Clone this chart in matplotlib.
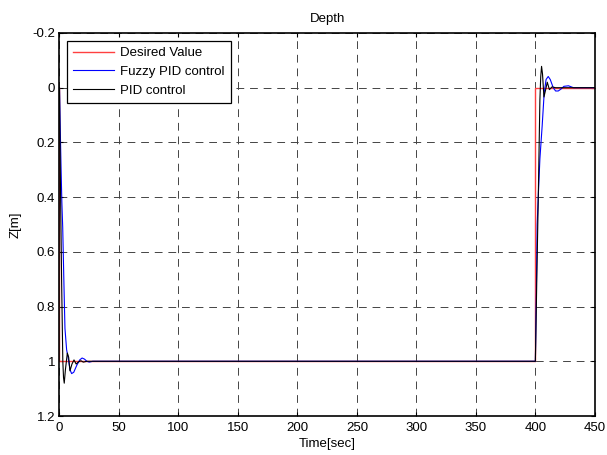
import matplotlib
matplotlib.use("Agg")
import matplotlib.pyplot as plt

# ---- data ----
desired_t = [0, 0, 400, 400, 450]
desired_z = [0, 1, 1, 0, 0]

fuzzy_t = [0, 0.5, 1.3, 2.0, 2.7, 3.8, 4.6, 6.0, 7.4, 8.8, 10.2, 12, 14.5, 17, 19,
           21, 23, 25, 28, 30, 400, 400.8, 401.5, 402.6, 403.8, 405.7, 407.4, 409,
           410.8, 412.5, 415, 417, 419.2, 421.5, 424, 427.8, 432, 450]
fuzzy_z = [0, 0.12, 0.29, 0.42, 0.51, 0.73, 0.88, 0.958, 0.99, 1.03, 1.045, 1.04,
           1.015, 0.995, 0.988, 0.992, 1.0, 1.003, 1.0, 1.0, 1.0, 0.75, 0.5, 0.38,
           0.26, 0.14, 0.02, -0.03, -0.041, -0.03, 0.0, 0.012, 0.012, 0.005, -0.005,
           -0.007, 0, 0]

pid_t = [0, 0.8, 1.8, 2.8, 3.4, 4.0, 5.0, 6.6, 7.7, 8.8, 10.5, 12.2, 14, 16, 18, 20,
         23, 25, 400, 400.6, 401.4, 402.4, 403.2, 403.8, 404.5, 405.2, 406, 407.2,
         408.5, 410, 411.8, 414, 417, 450]
pid_z = [0, 0.35, 0.71, 1.0, 1.06, 1.08, 1.03, 0.97, 0.985, 1.035, 1.01, 0.995, 1.01,
         1.002, 0.998, 1.003, 1.0, 1.0, 1.0, 0.85, 0.65, 0.41, 0.2, 0.044, -0.04,
         -0.078, -0.05, 0.034, 0.01, -0.02, 0.007, -0.003, 0.0, 0.0]

x_ticks = [0, 50, 100, 150, 200, 250, 300, 350, 400, 450]
y_ticks = [-0.2, 0, 0.2, 0.4, 0.6, 0.8, 1, 1.2]
y_tick_labels = ["-0.2", "0", "0.2", "0.4", "0.6", "0.8", "1", "1.2"]
series_labels = ["Desired Value", "Fuzzy PID control", "PID control"]

FS = 9.5
plt.rcParams['font.family'] = ['Liberation Sans', 'DejaVu Sans']
plt.rcParams['font.size'] = FS

fig = plt.figure(figsize=(6.07, 4.55), dpi=100)
ax = fig.add_axes([0.098, 0.0857, 0.882, 0.8418])

ax.plot(desired_t, desired_z, color='#ff4040', lw=1.0, label=series_labels[0])
ax.plot(fuzzy_t, fuzzy_z, color='#0000ff', lw=0.8, label=series_labels[1])
ax.plot(pid_t, pid_z, color='black', lw=0.8, label=series_labels[2])

ax.set_xlim(0, 450)
ax.set_ylim(1.2, -0.2)
ax.set_xticks(x_ticks)
ax.set_xticklabels([str(v) for v in x_ticks])
ax.set_yticks(y_ticks)
ax.set_yticklabels(y_tick_labels)

ax.grid(True, color='#444444', linestyle=(0, (8, 6)), linewidth=0.7)
ax.tick_params(axis='x', direction='in', top=True, length=3, width=0.8,
               labelsize=FS, pad=4)
ax.tick_params(axis='y', direction='in', right=True, length=3, width=0.8,
               labelsize=FS, pad=3)
for s in ax.spines.values():
    s.set_linewidth(1.2)

ax.set_title("Depth", fontsize=FS, pad=8)
ax.set_xlabel("Time[sec]", fontsize=FS, labelpad=3)
ax.set_ylabel("Z[m]", fontsize=FS, labelpad=8)

leg = ax.legend(loc='upper left', bbox_to_anchor=(0.014, 0.979), borderaxespad=0,
                fancybox=False, edgecolor='black', framealpha=1,
                handlelength=3.1, handletextpad=0.5, labelspacing=0.5,
                borderpad=0.45)
leg.get_frame().set_linewidth(0.9)

fig.savefig("out.png", dpi=100)
